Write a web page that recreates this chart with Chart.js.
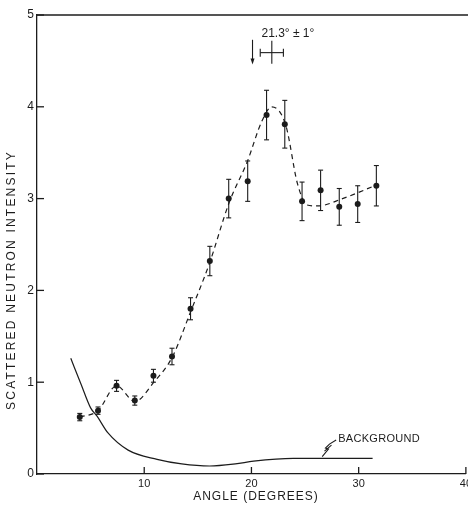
<!DOCTYPE html>
<html>
<head>
<meta charset="utf-8">
<script src="https://cdn.jsdelivr.net/npm/chart.js@4/dist/chart.umd.min.js"></script>
<style>
html, body { margin: 0; padding: 0; background: #fff; overflow: hidden; }
#wrap { width: 475px; height: 505px; }
</style>
</head>
<body>
<div id="wrap"><canvas id="chart"></canvas></div>
<script>
'use strict';

// measured points (degrees / intensity / half error bar)
const angles = [3.99, 5.69, 7.42, 9.12, 10.86, 12.59, 14.32, 16.12, 17.88, 19.65, 21.41, 23.11, 24.72, 26.45, 28.19, 29.91, 31.65];
const intensity = [0.62, 0.69, 0.96, 0.80, 1.07, 1.28, 1.80, 2.32, 3.00, 3.19, 3.91, 3.81, 2.97, 3.09, 2.91, 2.94, 3.14];
const errors = [0.04, 0.04, 0.06, 0.05, 0.07, 0.09, 0.12, 0.16, 0.21, 0.22, 0.27, 0.26, 0.21, 0.22, 0.20, 0.20, 0.22];

// dashed curve drawn through the data
const fitAngles = [3.99, 5.69, 7.42, 9.12, 10.9, 12.6, 14.3, 16.1, 17.9, 19.6, 21.0, 21.9, 23.2, 24.3, 25.2, 26.2, 28.5, 31.7];
const fitIntensity = [0.62, 0.69, 0.96, 0.79, 1.00, 1.27, 1.76, 2.30, 2.95, 3.40, 3.85, 4.00, 3.80, 3.16, 2.93, 2.92, 3.00, 3.15];

// background curve
const bgAngles = [3.15, 4.1, 5.0, 5.6, 6.6, 8.5, 11.2, 13.5, 16.1, 18.5, 20.2, 23.9, 31.3];
const bgIntensity = [1.26, 0.98, 0.72, 0.63, 0.45, 0.26, 0.16, 0.11, 0.087, 0.11, 0.14, 0.17, 0.17];

const xTicks = [10, 20, 30, 40];
const yTicks = [0, 1, 2, 3, 4, 5];

// peak marker: angle, spread, height; arrow angle and span
const peakMark = [21.9, 1.08, 4.59];
const arrowMark = [20.1, 4.73, 4.46];

const INK = '#1c1c1c';
const FONT = '"Liberation Sans", Arial, sans-serif';

function toPoints(xs, ys) {
	return xs.map((x, i) => ({ x: x, y: ys[i] }));
}

function buildDatasets() {
	return [
		{
			label: 'fit',
			data: toPoints(fitAngles, fitIntensity),
			showLine: true,
			borderColor: INK,
			borderWidth: 1.2,
			borderDash: [5, 4],
			pointRadius: 0,
			cubicInterpolationMode: 'monotone',
			fill: false,
		},
		{
			label: 'background',
			data: toPoints(bgAngles, bgIntensity),
			showLine: true,
			borderColor: INK,
			borderWidth: 1.2,
			pointRadius: 0,
			cubicInterpolationMode: 'monotone',
			fill: false,
		},
		{
			label: 'intensity',
			data: toPoints(angles, intensity),
			showLine: false,
			pointRadius: 3,
			pointBackgroundColor: INK,
			pointBorderColor: INK,
			pointBorderWidth: 0,
		},
	];
}

function line(ctx, x1, y1, x2, y2) {
	ctx.beginPath();
	ctx.moveTo(x1, y1);
	ctx.lineTo(x2, y2);
	ctx.stroke();
}

// error bars, inward ticks, top border, titles and notes
const decorations = {
	id: 'decorations',
	afterDatasetsDraw(chart) {
		const ctx = chart.ctx;
		const xs = chart.scales.x;
		const ys = chart.scales.y;
		const area = chart.chartArea;
		ctx.save();
		ctx.strokeStyle = INK;
		ctx.fillStyle = INK;
		ctx.lineWidth = 1.1;

		angles.forEach((a, i) => {
			const px = xs.getPixelForValue(a);
			const top = ys.getPixelForValue(intensity[i] + errors[i]);
			const bot = ys.getPixelForValue(intensity[i] - errors[i]);
			line(ctx, px, top, px, bot);
			line(ctx, px - 2.5, top, px + 2.5, top);
			line(ctx, px - 2.5, bot, px + 2.5, bot);
		});

		ctx.lineWidth = 1.3;
		line(ctx, area.left, area.top, chart.width, area.top);
		xTicks.forEach((v) => {
			const px = xs.getPixelForValue(v);
			line(ctx, px, area.bottom, px, area.bottom - 7);
		});
		yTicks.forEach((v) => {
			const py = ys.getPixelForValue(v);
			line(ctx, area.left, py, area.left + 7, py);
		});

		// peak cross and arrow
		ctx.lineWidth = 1.1;
		const cx = xs.getPixelForValue(peakMark[0]);
		const cy = ys.getPixelForValue(peakMark[2]);
		const cl = xs.getPixelForValue(peakMark[0] - peakMark[1]);
		const cr = xs.getPixelForValue(peakMark[0] + peakMark[1]);
		line(ctx, cl, cy, cr, cy);
		line(ctx, cl, cy - 4, cl, cy + 4);
		line(ctx, cr, cy - 4, cr, cy + 4);
		line(ctx, cx, cy - 12, cx, cy + 11);

		const ax = xs.getPixelForValue(arrowMark[0]);
		const a1 = ys.getPixelForValue(arrowMark[1]);
		const a2 = ys.getPixelForValue(arrowMark[2]);
		line(ctx, ax, a1, ax, a2 - 5);
		ctx.beginPath();
		ctx.moveTo(ax - 2, a2 - 6);
		ctx.lineTo(ax + 2, a2 - 6);
		ctx.lineTo(ax, a2);
		ctx.closePath();
		ctx.fill();

		// background leader with a little zigzag
		const l0x = xs.getPixelForValue(26.6), l0y = ys.getPixelForValue(0.19);
		const l1x = xs.getPixelForValue(27.9), l1y = ys.getPixelForValue(0.37);
		const mx = l0x + (l1x - l0x) * 0.45, my = l0y + (l1y - l0y) * 0.45;
		ctx.beginPath();
		ctx.moveTo(l0x, l0y);
		ctx.lineTo(mx, my);
		ctx.lineTo(mx - 3, my - 1);
		ctx.lineTo(mx + 1, my - 5);
		ctx.lineTo(l1x, l1y);
		ctx.stroke();
		line(ctx, mx - 4, my + 2, mx + 3, my - 4);

		ctx.textBaseline = 'middle';
		ctx.font = '11px ' + FONT;
		ctx.letterSpacing = '0.3px';
		ctx.textAlign = 'left';
		ctx.fillText('BACKGROUND', l1x + 2, l1y - 1);

		ctx.font = '12px ' + FONT;
		ctx.textAlign = 'center';
		ctx.letterSpacing = '0px';
		ctx.fillText('21.3° ± 1°', xs.getPixelForValue(23.4), ys.getPixelForValue(4.8));

		ctx.font = '12px ' + FONT;
		ctx.letterSpacing = '1px';
		ctx.fillText('ANGLE (DEGREES)', 256, 497);

		ctx.translate(12, 280);
		ctx.rotate(-Math.PI / 2);
		ctx.letterSpacing = '2.2px';
		ctx.fillText('SCATTERED NEUTRON INTENSITY', 0, 0);
		ctx.restore();
	},
};

function getX() {
	return {
		type: 'linear',
		min: 0,
		max: 40,
		grid: { display: false, drawTicks: false },
		border: { color: INK, width: 1.3 },
		ticks: { padding: 3, color: INK, font: { size: 11, family: FONT } },
		afterBuildTicks(scale) {
			scale.ticks = xTicks.map((v) => ({ value: v }));
		},
		afterFit(scale) {
			scale.height = 31;
		},
	};
}

function getY() {
	return {
		min: 0,
		max: 5,
		grid: { display: false, drawTicks: false },
		border: { color: INK, width: 1.3 },
		ticks: { padding: 3, color: INK, font: { size: 12, family: FONT } },
		afterBuildTicks(scale) {
			scale.ticks = yTicks.map((v) => ({ value: v }));
		},
		afterFit(scale) {
			scale.width = 37;
		},
	};
}

function makeChart() {
	const ctx = document.querySelector('#chart').getContext('2d');
	return new Chart(ctx, {
		type: 'scatter',
		data: { datasets: buildDatasets() },
		options: {
			responsive: true,
			maintainAspectRatio: false,
			animation: false,
			layout: { padding: { top: 15, left: 0, right: 0, bottom: 0 } },
			plugins: { legend: { display: false }, tooltip: { enabled: false } },
			scales: { x: getX(), y: getY() },
		},
		plugins: [decorations],
	});
}

makeChart();
</script>
</body>
</html>
